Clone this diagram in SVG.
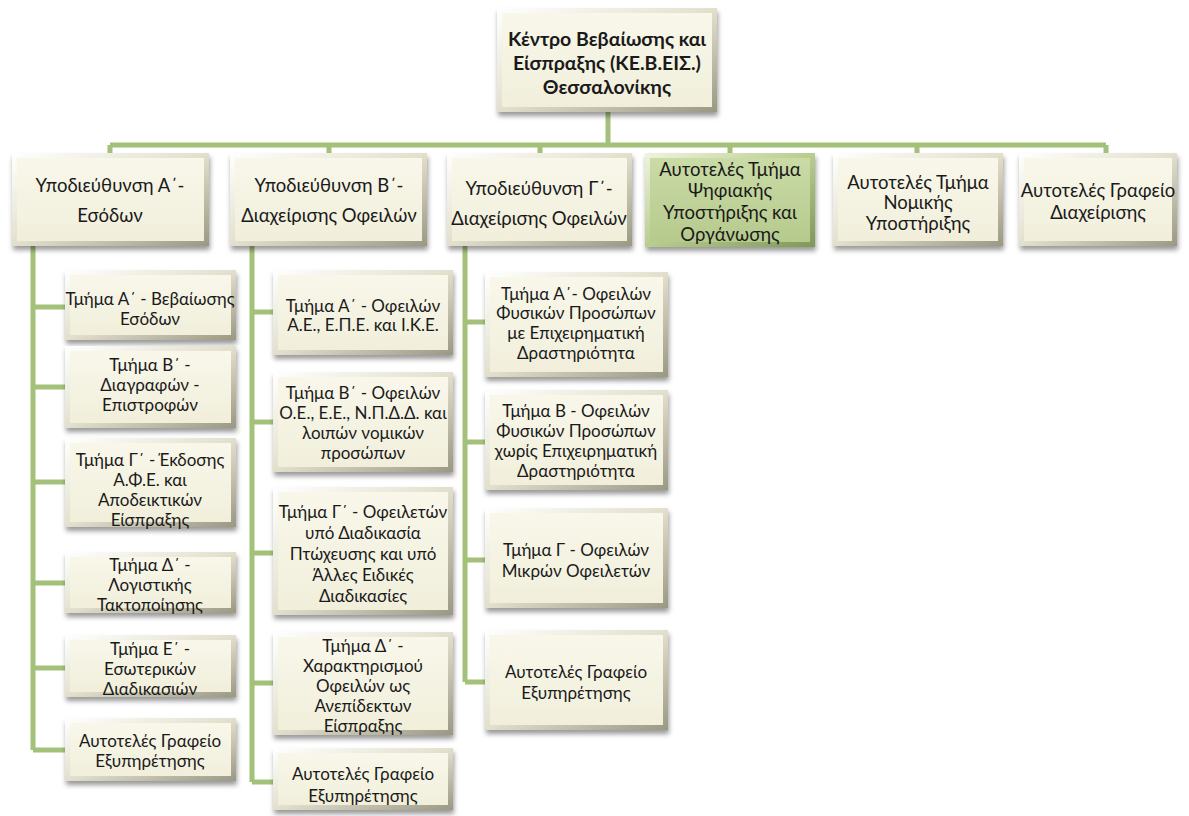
<svg xmlns="http://www.w3.org/2000/svg" width="1189" height="816" viewBox="0 0 1189 816">
<defs>
<linearGradient id="bev" x1="0" y1="0" x2="1" y2="1"><stop offset="0" stop-color="#ffffff"/><stop offset="0.5" stop-color="#e2e0cc"/><stop offset="1" stop-color="#9a9883"/></linearGradient>
<linearGradient id="face" x1="0" y1="0" x2="0" y2="1"><stop offset="0" stop-color="#f8f7ea"/><stop offset="1" stop-color="#f1efdb"/></linearGradient>
<linearGradient id="bevG" x1="0" y1="0" x2="1" y2="1"><stop offset="0" stop-color="#eef4de"/><stop offset="0.5" stop-color="#b9cd8f"/><stop offset="1" stop-color="#7e9858"/></linearGradient>
<linearGradient id="faceG" x1="0" y1="0" x2="0" y2="1"><stop offset="0" stop-color="#cadba6"/><stop offset="1" stop-color="#b6ca8d"/></linearGradient>
<filter id="sh" x="-10%" y="-10%" width="120%" height="130%"><feDropShadow dx="1" dy="4" stdDeviation="2.5" flood-color="#000" flood-opacity="0.4"/></filter>
</defs>
<style>
.o{fill:url(#bev);filter:url(#sh);}
.f{fill:url(#face);}
.og{fill:url(#bevG);filter:url(#sh);}
.fg{fill:url(#faceG);}
text{font-family:Lato,"Noto Sans","DejaVu Sans",sans-serif;fill:#1a1a1a;text-anchor:middle;dominant-baseline:central;}
.t0{font-size:19.5px;font-weight:bold;}
.t1{font-size:18.5px;}
.t2{font-size:17px;}
.cn{fill:none;stroke:#a4c17a;stroke-width:5;stroke-linejoin:miter;}
</style>
<rect width="1189" height="816" fill="#ffffff"/>
<g id="connectors">
<path class="cn" d="M608,112 V145 M110,145 H1106 M110,145 V154 M329,145 V154 M540,145 V154 M730,145 V154 M917,145 V154 M1106,145 V154"/>
<path class="cn" d="M33,246 V750 M33,307 H66 M33,387 H66 M33,482 H66 M33,583 H66 M33,668 H66 M33,750 H66"/>
<path class="cn" d="M252,246 V782 M252,312 H274 M252,422 H274 M252,553 H274 M252,683 H274 M252,782 H274"/>
<path class="cn" d="M465,246 V682 M465,322 H486 M465,442 H486 M465,560 H486 M465,682 H486"/>
</g>
<g id="root"><rect class="o" x="497" y="8" width="220" height="104"/><rect class="f" x="502" y="13" width="210" height="94"/>
<text class="t0" x="607" y="38">Κέντρο Βεβαίωσης και</text><text class="t0" x="607" y="62">Είσπραξης (ΚΕ.Β.ΕΙΣ.)</text><text class="t0" x="607" y="86">Θεσσαλονίκης</text></g>
<g id="l1a"><rect class="o" x="12" y="153" width="197" height="93"/><rect class="f" x="17" y="158" width="187" height="83"/>
<text class="t1" x="110" y="185">Υποδιεύθυνση Α΄-</text><text class="t1" x="110" y="215">Εσόδων</text></g>
<g id="l1b"><rect class="o" x="230" y="153" width="197" height="93"/><rect class="f" x="235" y="158" width="187" height="83"/>
<text class="t1" x="329" y="185">Υποδιεύθυνση Β΄-</text><text class="t1" x="329" y="215">Διαχείρισης Οφειλών</text></g>
<g id="l1c"><rect class="o" x="447" y="153" width="185" height="93"/><rect class="f" x="452" y="158" width="175" height="83"/>
<text class="t1" x="539" y="188">Υποδιεύθυνση Γ΄-</text><text class="t1" x="539" y="218">Διαχείρισης Οφειλών</text></g>
<g id="l1d"><rect class="og" x="645" y="153" width="170" height="94"/><rect class="fg" x="650" y="158" width="160" height="84"/>
<text class="t1" x="730" y="169">Αυτοτελές Τμήμα</text><text class="t1" x="730" y="190">Ψηφιακής</text><text class="t1" x="730" y="212">Υποστήριξης και</text><text class="t1" x="730" y="234">Οργάνωσης</text></g>
<g id="l1e"><rect class="o" x="833" y="153" width="170" height="93"/><rect class="f" x="838" y="158" width="160" height="83"/>
<text class="t1" x="918" y="182">Αυτοτελές Τμήμα</text><text class="t1" x="918" y="202">Νομικής</text><text class="t1" x="918" y="223">Υποστήριξης</text></g>
<g id="l1f"><rect class="o" x="1019" y="153" width="158" height="93"/><rect class="f" x="1024" y="158" width="148" height="83"/>
<text class="t1" x="1098" y="190">Αυτοτελές Γραφείο</text><text class="t1" x="1098" y="212">Διαχείρισης</text></g>

<g id="a1"><rect class="o" x="65" y="270" width="171" height="70"/><rect class="f" x="70" y="275" width="161" height="60"/>
<text class="t2" x="150" y="298">Τμήμα Α΄ - Βεβαίωσης</text><text class="t2" x="150" y="318">Εσόδων</text></g>
<g id="a2"><rect class="o" x="65" y="346" width="171" height="82"/><rect class="f" x="70" y="351" width="161" height="72"/>
<text class="t2" x="150" y="364">Τμήμα Β΄ -</text><text class="t2" x="150" y="384">Διαγραφών -</text><text class="t2" x="150" y="404">Επιστροφών</text></g>
<g id="a3"><rect class="o" x="65" y="438" width="171" height="89"/><rect class="f" x="70" y="443" width="161" height="79"/>
<text class="t2" x="150" y="459">Τμήμα Γ΄ - Έκδοσης</text><text class="t2" x="150" y="479">Α.Φ.Ε. και</text><text class="t2" x="150" y="499">Αποδεικτικών</text><text class="t2" x="150" y="519">Είσπραξης</text></g>
<g id="a4"><rect class="o" x="65" y="552" width="171" height="61"/><rect class="f" x="70" y="557" width="161" height="51"/>
<text class="t2" x="150" y="564">Τμήμα Δ΄ -</text><text class="t2" x="150" y="584">Λογιστικής</text><text class="t2" x="150" y="604">Τακτοποίησης</text></g>
<g id="a5"><rect class="o" x="65" y="635" width="171" height="62"/><rect class="f" x="70" y="640" width="161" height="52"/>
<text class="t2" x="150" y="648">Τμήμα Ε΄ -</text><text class="t2" x="150" y="668">Εσωτερικών</text><text class="t2" x="150" y="688">Διαδικασιών</text></g>
<g id="a6"><rect class="o" x="65" y="718" width="171" height="63"/><rect class="f" x="70" y="723" width="161" height="53"/>
<text class="t2" x="150" y="740">Αυτοτελές Γραφείο</text><text class="t2" x="150" y="760">Εξυπηρέτησης</text></g>

<g id="b1"><rect class="o" x="273" y="270" width="180" height="85"/><rect class="f" x="278" y="275" width="170" height="75"/>
<text class="t2" x="363" y="305">Τμήμα Α΄ - Οφειλών</text><text class="t2" x="363" y="324">Α.Ε., Ε.Π.Ε. και Ι.Κ.Ε.</text></g>
<g id="b2"><rect class="o" x="273" y="372" width="180" height="100"/><rect class="f" x="278" y="377" width="170" height="90"/>
<text class="t2" x="363" y="392">Τμήμα Β΄ - Οφειλών</text><text class="t2" x="363" y="412">Ο.Ε., Ε.Ε., Ν.Π.Δ.Δ. και</text><text class="t2" x="363" y="432">λοιπών νομικών</text><text class="t2" x="363" y="452">προσώπων</text></g>
<g id="b3"><rect class="o" x="273" y="487" width="180" height="128"/><rect class="f" x="278" y="492" width="170" height="118"/>
<text class="t2" x="363" y="511">Τμήμα Γ΄ - Οφειλετών</text><text class="t2" x="363" y="532">υπό Διαδικασία</text><text class="t2" x="363" y="553">Πτώχευσης και  υπό</text><text class="t2" x="363" y="574">Άλλες Ειδικές</text><text class="t2" x="363" y="595">Διαδικασίες</text></g>
<g id="b4"><rect class="o" x="273" y="632" width="180" height="103"/><rect class="f" x="278" y="637" width="170" height="93"/>
<text class="t2" x="363" y="645">Τμήμα Δ΄ -</text><text class="t2" x="363" y="665">Χαρακτηρισμού</text><text class="t2" x="363" y="685">Οφειλών ως</text><text class="t2" x="363" y="705">Ανεπίδεκτων</text><text class="t2" x="363" y="725">Είσπραξης</text></g>
<g id="b5"><rect class="o" x="273" y="748" width="180" height="62"/><rect class="f" x="278" y="753" width="170" height="52"/>
<text class="t2" x="363" y="773">Αυτοτελές Γραφείο</text><text class="t2" x="363" y="795">Εξυπηρέτησης</text></g>

<g id="c1"><rect class="o" x="485" y="272" width="183" height="105"/><rect class="f" x="490" y="277" width="173" height="95"/>
<text class="t2" x="576" y="293">Τμήμα Α΄- Οφειλών</text><text class="t2" x="576" y="312">Φυσικών Προσώπων</text><text class="t2" x="576" y="332">με Επιχειρηματική</text><text class="t2" x="576" y="352">Δραστηριότητα</text></g>
<g id="c2"><rect class="o" x="485" y="390" width="183" height="100"/><rect class="f" x="490" y="395" width="173" height="90"/>
<text class="t2" x="576" y="410">Τμήμα Β - Οφειλών</text><text class="t2" x="576" y="430">Φυσικών Προσώπων</text><text class="t2" x="576" y="450">χωρίς  Επιχειρηματική</text><text class="t2" x="576" y="470">Δραστηριότητα</text></g>
<g id="c3"><rect class="o" x="485" y="508" width="183" height="100"/><rect class="f" x="490" y="513" width="173" height="90"/>
<text class="t2" x="576" y="549">Τμήμα Γ - Οφειλών</text><text class="t2" x="576" y="570">Μικρών Οφειλετών</text></g>
<g id="c4"><rect class="o" x="485" y="630" width="183" height="100"/><rect class="f" x="490" y="635" width="173" height="90"/>
<text class="t2" x="576" y="671">Αυτοτελές Γραφείο</text><text class="t2" x="576" y="692">Εξυπηρέτησης</text></g>
</svg>
